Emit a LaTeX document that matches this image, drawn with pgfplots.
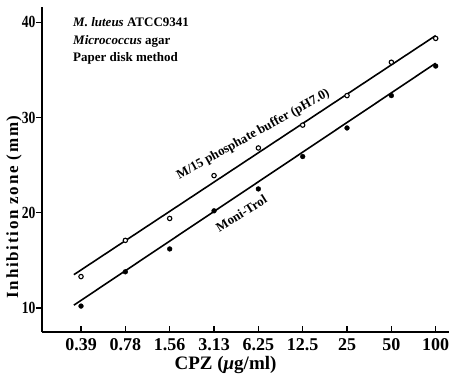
\documentclass[border=0pt]{standalone}
\usepackage{pgfplots}
\pgfplotsset{compat=1.18}
\usepackage{fontspec}
\setmainfont{Liberation Serif}
\newfontfamily\condfont{Liberation Serif}[FakeStretch=0.8]
\newfontfamily\spacedfont{Liberation Serif}[LetterSpace=10]
\begin{document}
\begin{tikzpicture}
\begin{axis}[
  scale only axis, width=407pt, height=325pt,
  xmin=-0.88, xmax=8.3, ymin=7.48, ymax=41.6,
  axis x line*=bottom, axis y line*=left,
  axis line style={line width=1.6pt, -},
  xtick={0,1,2,3,4,5,6,7,8},
  xticklabels={0.39,0.78,1.56,3.13,6.25,12.5,25,50,100},
  ytick={10,20,30,40},
  tick align=inside,
  major tick length=6pt,
  tick style={line width=1.2pt, black},
  y tick style={xshift=-6pt},
  x tick label style={font=\fontsize{18}{18}\selectfont\bfseries, yshift=-3pt},
  y tick label style={font=\fontsize{17}{17}\selectfont\bfseries\condfont, xshift=-3pt},
  /pgf/number format/assume math mode=true,
  xlabel={CPZ (\textit{μ}g/ml)},
  xlabel style={font=\fontsize{19}{19}\selectfont\bfseries, xshift=-20pt, yshift=1pt},
  ylabel={Inhibition zone (mm)},
  ylabel style={font=\fontsize{17}{17}\selectfont\bfseries\spacedfont, at={(axis description cs:-0.069,0.385)}, anchor=center},
  clip=false,
]
\addplot[black, line width=1.6pt] coordinates {(-0.16,13.5) (8,38.6)};
\addplot[black, line width=1.6pt] coordinates {(-0.16,10.3) (8,35.7)};
\addplot[only marks, mark=*, mark size=2.2pt, mark options={fill=white, draw=black, line width=1.1pt}] coordinates {
(0,13.3) (1,17.1) (2,19.4) (3,23.9) (4,26.8) (5,29.2) (6,32.3) (7,35.8) (8,38.3)};
\addplot[only marks, mark=*, mark size=2.4pt, black] coordinates {
(0,10.2) (1,13.8) (2,16.2) (3,20.2) (4,22.5) (5,25.9) (6,28.9) (7,32.3) (8,35.4)};
\node[anchor=north west, align=left, font=\fontsize{13}{17.5}\selectfont\bfseries, inner sep=0pt]
  at (axis cs:-0.18,40.5) {\textit{M. luteus} ATCC9341\\ \textit{Micrococcus} agar\\ Paper disk method};
\node[anchor=base, rotate=29, font=\fontsize{13}{13}\selectfont\bfseries, inner sep=0pt]
  at (axis cs:3.92,27.9) {M/15 phosphate buffer (pH7.0)};
\node[anchor=base, rotate=32, font=\fontsize{13}{13}\selectfont\bfseries, inner sep=0pt]
  at (axis cs:3.67,19.55) {Moni-Trol};
\end{axis}
\pgfresetboundingbox
\path ([shift={(-42pt,-44pt)}]current axis.south west) rectangle ([shift={(1pt,7pt)}]current axis.north east);
\end{tikzpicture}
\end{document}
